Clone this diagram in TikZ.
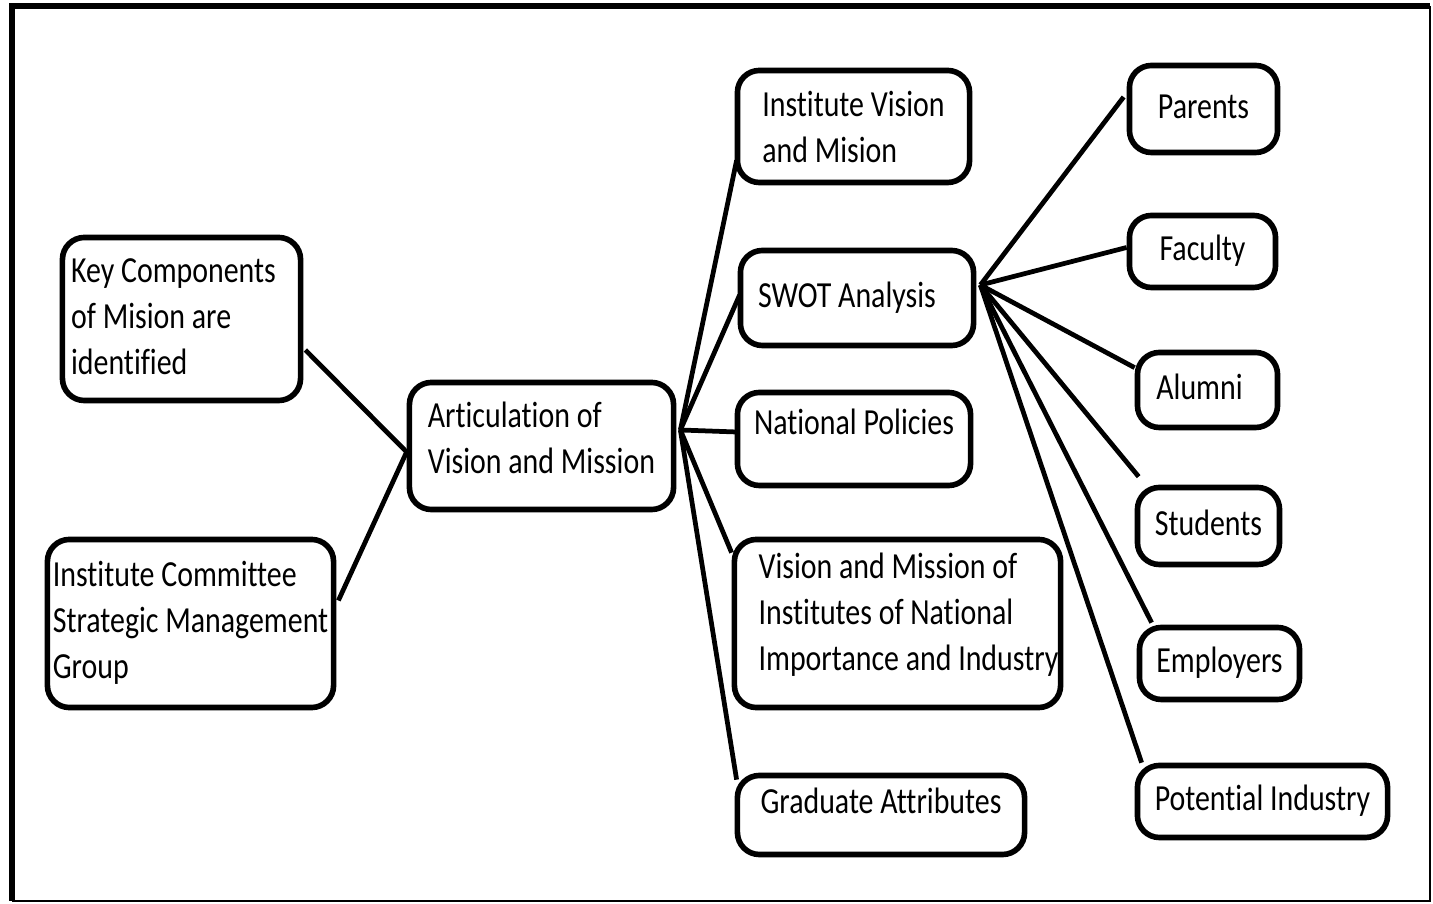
\documentclass[tikz,border=0pt]{standalone}
\usepackage{fontspec}
\setmainfont{Carlito}[Ligatures=CommonOff]
\usepackage{graphicx}
\usetikzlibrary{calc}
\usetikzlibrary{positioning}

\newcommand{\boxtext}[1]{\scalebox{1}[1.23]{\begin{tabular}{@{}l@{}}#1\end{tabular}}}

\begin{document}
\begin{tikzpicture}[x=0.01cm, y=-0.01cm,
	box/.style={draw, line width=1.6pt, rounded corners=0.22cm, inner sep=0pt,
		font=\fontsize{8.5}{10.6}\selectfont},
	link/.style={line width=1.35pt}]
	\useasboundingbox (0,0) rectangle (1433,904);
	
	% frame
	\draw[line width=1.7pt] (12,901) -- (12,6) -- (1430,6);
	\draw[line width=0.6pt] (1430,6) -- (1430,901) -- (12,901);
	
	\node[box, minimum width=2.38cm, minimum height=1.63cm] (key) at (181.5,319) {\boxtext{Key Components\\of Mision are\\identified}\kern0.16cm};
	\node[box, minimum width=2.86cm, minimum height=1.68cm] (com) at (190.5,623.5) {\boxtext{Institute Committee\\Strategic Management\\Group}};
	\node[box, minimum width=2.64cm, minimum height=1.27cm] (art) at (541.5,446) {\raisebox{0.05cm}[\height][\depth]{\boxtext{Articulation of\\Vision and Mission}}};
	
	\node[box, minimum width=2.32cm, minimum height=1.12cm] (iv) at (853.5,126.5) {\raisebox{-0.04cm}[\height][\depth]{\boxtext{Institute Vision\\and Mision}}};
	\node[box, minimum width=2.33cm, minimum height=0.95cm] (swot) at (857,298) {\boxtext{SWOT Analysis}\kern0.2cm};
	\node[box, minimum width=2.33cm, minimum height=0.93cm] (nat) at (854,439) {\raisebox{0.14cm}[\height][\depth]{\boxtext{National Policies}}};
	\node[box, minimum width=3.26cm, minimum height=1.68cm] (vmi) at (897.5,623.5) {\kern0.22cm\raisebox{0.08cm}[\height][\depth]{\boxtext{Vision and Mission of\\Institutes of National\\Importance and Industry}}};
	\node[box, minimum width=2.87cm, minimum height=0.79cm] (grad) at (881,815) {\raisebox{0.11cm}[\height][\depth]{\boxtext{Graduate Attributes}}};
	
	\node[box, minimum width=1.48cm, minimum height=0.87cm] (par) at (1203.5,109) {\boxtext{Parents}};
	\node[box, minimum width=1.46cm, minimum height=0.72cm] (fac) at (1202.5,251.5) {\boxtext{Faculty}};
	\node[box, minimum width=1.40cm, minimum height=0.75cm] (alu) at (1207.5,390) {\boxtext{Alumni}\kern0.16cm};
	\node[box, minimum width=1.42cm, minimum height=0.77cm] (stu) at (1208.5,526) {\boxtext{Students}};
	\node[box, minimum width=1.60cm, minimum height=0.72cm] (emp) at (1219.5,663.5) {\boxtext{Employers}};
	\node[box, minimum width=2.50cm, minimum height=0.72cm] (pot) at (1262.5,801.5) {\boxtext{Potential Industry}};
	
	\coordinate (hubL) at ($(art.west)+(0,6)$);
	\coordinate (hubR) at ($(art.east)+(4,-16)$);
	\coordinate (hubS) at ($(swot.east)+(4,-13)$);
	
	\draw[link] ($(key.east)+(2,31)$) -- (hubL);
	\draw[link] ($(com.east)+(2,-23)$) -- (hubL);
	
	\draw[link] (hubR) -- ($(iv.south west)+(2,-25)$);
	\draw[link] (hubR) -- ($(swot.west)+(2,-3)$);
	\draw[link] (hubR) -- ($(nat.west)+(2,-7)$);
	\draw[link] (hubR) -- ($(vmi.north west)+(0,16)$);
	\draw[link] (hubR) -- ($(grad.north west)+(2,7)$);
	
	\draw[link] (hubS) -- ($(par.west)+(-3,-12)$);
	\draw[link] (hubS) -- ($(fac.west)+(0,-4)$);
	\draw[link] (hubS) -- ($(alu.north west)+(0,18)$);
	\draw[link] (hubS) -- ($(stu.north west)+(4,-8)$);
	\draw[link] (hubS) -- ($(emp.north west)+(15,-2)$);
	\draw[link] (hubS) -- ($(pot.north west)+(7,0)$);
\end{tikzpicture}
\end{document}
